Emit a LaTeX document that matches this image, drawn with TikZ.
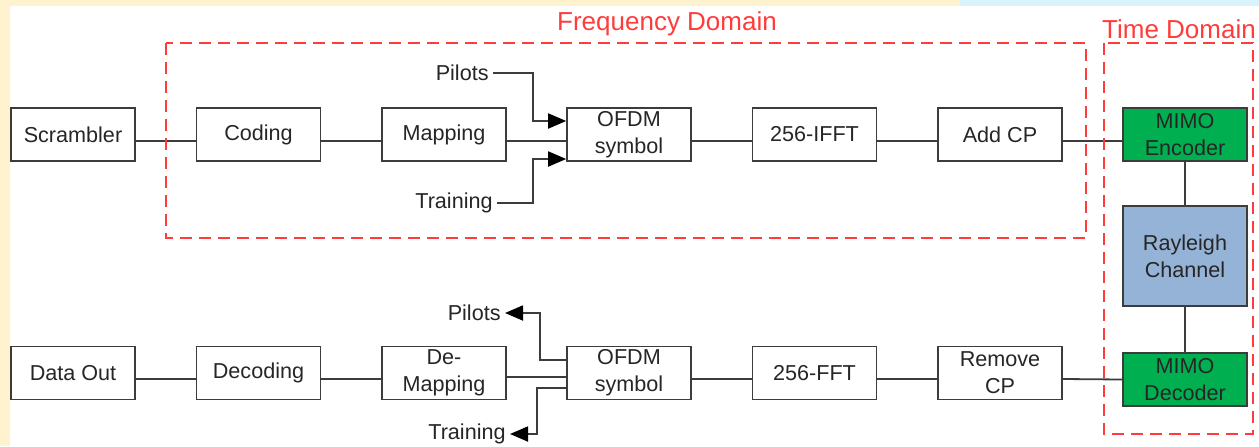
\documentclass[tikz,border=0pt]{standalone}
\usepackage{xcolor}
\usepackage{fontspec}
\setmainfont{Liberation Sans}
\usepackage{tikz}
\usetikzlibrary{arrows.meta}
\usetikzlibrary{positioning}
\definecolor{mimogreen}{RGB}{0,176,80}
\definecolor{chanblue}{RGB}{149,179,215}
\definecolor{domred}{RGB}{255,60,60}
\definecolor{lineg}{RGB}{60,60,60}
\definecolor{paleyel}{RGB}{255,242,206}
\definecolor{palecyan}{RGB}{216,243,252}

\begin{document}
\begin{tikzpicture}[
  x=0.5pt, y=-0.5pt,
  blk/.style={rectangle,draw=lineg,line width=0.8pt,minimum width=62pt,minimum height=26.5pt,
    inner sep=0pt,align=center,text=black!85},
  conn/.style={draw=lineg,line width=0.9pt},
  arr/.style={conn,-{Triangle[length=9pt,width=7.5pt,color=black]}},
  dom/.style={draw=domred,line width=0.9pt,dash pattern=on 6pt off 3.5pt},
  lbl/.style={inner sep=2pt,text=black!85},
  font=\fontsize{10.8pt}{13.5pt}\selectfont]
  \useasboundingbox (0,0) rectangle (1259,446);
  % page background
  \fill[paleyel] (0,0) rectangle (1259,446);
  \fill[palecyan] (960,0) rectangle (1259,6);
  \fill[white] (10,6) rectangle (1259,446);

  % transmitter
  \node[blk] (scr) at (73,134.5) {Scrambler};
  \node[blk] (cod) at (258.5,134.5) {Coding};
  \node[blk] (map) at (444,134.5) {Mapping};
  \node[blk] (ofdmt) at (629,134.5) {OFDM\\symbol};
  \node[blk] (ifft) at (814.5,134.5) {256-IFFT};
  \node[blk] (acp) at (1000,134.5) {Add CP};
  \node[blk,fill=mimogreen] (enc) at (1185,134.5) {MIMO\\Encoder};
  \node[blk,fill=chanblue,minimum height=50pt] (chan) at (1185,256) {Rayleigh\\Channel};

  % receiver
  \node[blk] (dout) at (73,373) {Data Out};
  \node[blk] (dec) at (258.5,373) {Decoding};
  \node[blk] (dmap) at (444,373) {De-\\Mapping};
  \node[blk] (ofdmr) at (629,373) {OFDM\\symbol};
  \node[blk] (fft) at (814.5,373) {256-FFT};
  \node[blk] (rcp) at (1000,373) {Remove\\CP};
  \node[blk,fill=mimogreen] (mdec) at (1185,379.5) {MIMO\\Decoder};

  % side inputs / outputs
  \node[lbl,anchor=east] (pilt) at (493,73) {Pilots};
  \node[lbl,anchor=east] (trnt) at (497,203) {Training};
  \node[lbl,anchor=east] (pilr) at (505,313) {Pilots};
  \node[lbl,anchor=east] (trnr) at (510,434) {Training};

  % links
  \draw[conn] ([yshift=-3.25pt]scr.east) -- ([yshift=-3.25pt]cod.west);
  \draw[conn] ([yshift=-3.25pt]cod.east) -- ([yshift=-3.25pt]map.west);
  \draw[conn] ([yshift=-3.25pt]map.east) -- ([yshift=-3.25pt]ofdmt.west);
  \draw[conn] ([yshift=-3.25pt]ofdmt.east) -- ([yshift=-3.25pt]ifft.west);
  \draw[conn] ([yshift=-3.25pt]ifft.east) -- ([yshift=-3.25pt]acp.west);
  \draw[conn] ([yshift=-3.25pt]acp.east) -- ([yshift=-3.25pt]enc.west);
  \draw[conn] (enc.south) -- (chan.north);
  \draw[conn] (chan.south) -- (mdec.north);
  \draw[arr] (pilt.east) -| (533,121) -- (ofdmt.west |- 0,121);
  \draw[arr] (trnt.east) -| (533,159) -- (ofdmt.west |- 0,159);

  \draw[conn] ([yshift=-3pt]dout.east) -- ([yshift=-3pt]dec.west);
  \draw[conn] ([yshift=-3pt]dec.east) -- ([yshift=-3pt]dmap.west);
  \draw[conn] ([yshift=-2pt]dmap.east) -- ([yshift=-2pt]ofdmr.west);
  \draw[conn] ([yshift=-3pt]ofdmr.east) -- ([yshift=-3pt]fft.west);
  \draw[conn] ([yshift=-3pt]fft.east) -- ([yshift=-3pt]rcp.west);
  \draw[conn] ([yshift=-3pt]rcp.east) -- (mdec.west);
  \draw[arr] (ofdmr.west |- 0,360) -| (540,313) -- (pilr.east);
  \draw[arr] (ofdmr.west |- 0,388) -| (537,434) -- (trnr.east);

  % domains
  \draw[dom] (166,43) rectangle (1086,238);
  \node[text=domred,font=\fontsize{13pt}{15pt}\selectfont] (fdom) at (667,24) {Frequency Domain};
  \draw[dom] (1104,43) rectangle (1253,434);
  \node[text=domred,font=\fontsize{13pt}{15pt}\selectfont] (tdom) at (1179,29) {Time Domain};
\end{tikzpicture}
\end{document}
